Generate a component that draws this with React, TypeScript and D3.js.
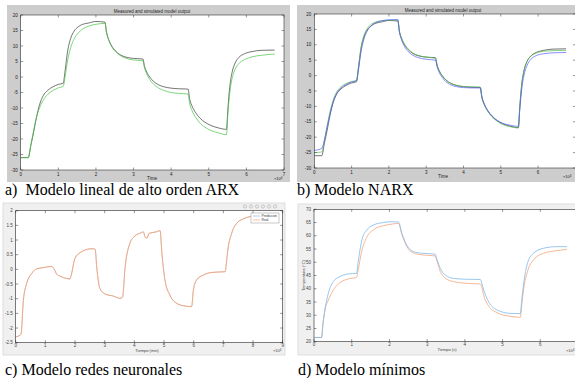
import React from 'react';
import * as d3 from 'd3';

// time axis (x10^4) shared by panels a and b
const tAB = [0, 0.2, 0.27, 0.34, 0.42, 0.5, 0.6, 0.72, 0.85, 1.0, 1.13, 1.18, 1.25, 1.33, 1.42, 1.53, 1.65, 1.8, 2.0, 2.24, 2.28, 2.34, 2.42, 2.52, 2.64, 2.8, 3.0, 3.25, 3.29, 3.35, 3.43, 3.53, 3.66, 3.82, 4.0, 4.2, 4.45, 4.49, 4.56, 4.65, 4.76, 4.9, 5.05, 5.25, 5.47, 5.51, 5.56, 5.62, 5.7, 5.8, 5.95, 6.15, 6.4, 6.75];
const measured = [-26, -26, -22, -18, -13, -9, -6, -4.3, -3.2, -2.4, -2.0, 2, 8.5, 12.5, 14.8, 16.2, 17.0, 17.4, 17.9, 17.7, 14.5, 12.0, 10.0, 8.4, 7.2, 6.4, 6.0, 5.8, 3.5, 1.6, 0.0, -1.4, -2.5, -3.2, -3.6, -3.8, -3.9, -7, -9.5, -11.5, -13.2, -14.6, -15.6, -16.4, -16.9, -10, -3, 1.5, 4.5, 6.3, 7.5, 8.2, 8.6, 8.7];
const arxSim = [-26, -26, -22, -17.5, -13, -10, -7.5, -5.6, -4.4, -3.5, -3.0, 0, 5.5, 9.5, 12.3, 14.2, 15.5, 16.4, 17.0, 17.3, 14.5, 12.0, 9.8, 8.2, 7.0, 6.0, 5.5, 5.2, 3.0, 1.0, -0.8, -2.3, -3.5, -4.4, -5.0, -5.3, -5.5, -8.5, -11, -13, -14.8, -16.2, -17.2, -18.0, -18.6, -11.5, -5, -0.5, 2.5, 4.3, 5.6, 6.5, 7.0, 7.4];
const narxGreen = [-25, -24.8, -21, -16.5, -11.8, -8.2, -5.3, -3.6, -2.6, -1.9, -1.6, 2.5, 9, 13, 15.3, 16.7, 17.4, 17.8, 18.0, 18.0, 14.5, 12.2, 10.2, 8.6, 7.4, 6.5, 6.0, 5.6, 3.4, 1.5, -0.1, -1.5, -2.5, -3.2, -3.5, -3.6, -3.7, -6.8, -9.4, -11.5, -13.3, -14.8, -15.9, -16.6, -17.0, -10, -3, 1.5, 4.5, 6.2, 7.3, 7.9, 8.1, 8.2];
const narxBlue = [-24.3, -23.6, -21, -17, -12.5, -8.8, -5.8, -4.0, -2.9, -2.1, -1.7, 1.5, 7.5, 11.8, 14.5, 16.2, 17.2, 17.8, 18.1, 18.2, 14.3, 11.6, 9.4, 7.8, 6.6, 5.8, 5.3, 5.0, 3.0, 1.0, -0.6, -2.0, -3.0, -3.6, -3.9, -4.0, -4.0, -6.6, -9.2, -11.3, -13.0, -14.5, -15.5, -16.1, -16.5, -11, -4.5, 0, 3.2, 5.2, 6.5, 7.1, 7.4, 7.5];

// panel c (x10^4 min)
const tC = [0, 0.15, 0.18, 0.26, 0.37, 0.54, 0.71, 0.93, 1.21, 1.3, 1.38, 1.49, 1.72, 1.83, 1.87, 2.0, 2.17, 2.34, 2.5, 2.62, 2.68, 2.73, 2.84, 3.01, 3.29, 3.52, 3.6, 3.69, 3.85, 4.02, 4.19, 4.3, 4.36, 4.42, 4.5, 4.75, 4.87, 4.92, 5.03, 5.2, 5.43, 5.71, 5.93, 5.99, 6.1, 6.33, 6.66, 7.06, 7.1, 7.15, 7.28, 7.45, 7.67, 7.9, 8.12];
const realC = [-2.3, -2.24, -2.2, -1.05, -0.48, -0.14, 0.02, 0.06, 0.1, 0.0, -0.16, -0.23, -0.31, -0.33, -0.2, 0.38, 0.57, 0.66, 0.7, 0.7, 0.68, 0.09, -0.65, -0.84, -0.91, -0.99, -0.95, 0.09, 0.89, 1.14, 1.23, 1.28, 1.11, 1.06, 1.23, 1.28, 1.32, 0.66, -0.36, -0.88, -1.16, -1.25, -1.27, -0.7, -0.36, -0.19, -0.1, -0.08, 0.2, 0.66, 1.23, 1.57, 1.72, 1.8, 1.85];
const predC = realC; // prediction sits under the real curve

// panel d (x10^4 s, °C)
const tD = [0, 0.2, 0.24, 0.29, 0.38, 0.51, 0.69, 0.91, 1.13, 1.17, 1.27, 1.4, 1.58, 1.84, 2.02, 2.24, 2.33, 2.46, 2.64, 2.86, 3.21, 3.26, 3.35, 3.48, 3.7, 4.0, 4.41, 4.45, 4.5, 4.63, 4.85, 5.2, 5.47, 5.51, 5.56, 5.66, 5.82, 6.09, 6.44, 6.71];
const measD = [21.6, 21.6, 27, 32, 38.3, 42.7, 44.6, 45.6, 45.8, 50, 58.4, 62.2, 64.1, 65, 65.3, 65.2, 60.9, 56.5, 54, 53.4, 53.1, 51, 47.7, 45.2, 43.9, 43.6, 43.5, 42, 39.5, 35.1, 32, 30.7, 30.6, 36, 42, 49.6, 53.4, 55.3, 55.9, 55.9];
const modelD = [21.6, 21.6, 27, 32, 35.7, 39.5, 42.3, 43.7, 44.3, 47, 54.5, 59.5, 62.3, 63.8, 64.3, 64.7, 60.5, 56, 53.5, 52.8, 52.4, 50.5, 46.5, 44, 42.7, 42.1, 41.8, 40.5, 37.5, 33.5, 31, 29.6, 29.2, 34, 40, 46.5, 50.9, 53.4, 54.4, 54.9];

const ticksA_x = [0, 1, 2, 3, 4, 5, 6, 7];
const ticksB_x = [0, 1, 2, 3, 4, 5, 6]; // 7 falls off the cropped edge
const ticksAB_y = [20, 15, 10, 5, 0, -5, -10, -15, -20, -25, -30];
const ticksC_x = [0, 1, 2, 3, 4, 5, 6, 7, 8, 9];
const ticksC_y = [2, 1.5, 1, 0.5, 0, -0.5, -1, -1.5, -2, -2.5];
const ticksD_x = [0, 1, 2, 3, 4, 5, 6];
const ticksD_y = [70, 65, 60, 55, 50, 45, 40, 35, 30, 25, 20];

const sans = 'Liberation Sans, Arial, sans-serif';
const serif = 'Liberation Serif, Times New Roman, serif';

type Series = { t: number[]; v: number[]; color: string; w: number };

function Axes(props: {
  box: [number, number, number, number];
  xd: [number, number]; yd: [number, number];
  xt: number[]; yt: number[];
  series: Series[];
  axisColor: string;
  labelColor: string;
  labelOff: number;
  id: string;
}) {
  const [x0, y0, x1, y1] = props.box;
  const x = d3.scaleLinear().domain(props.xd).range([x0, x1]);
  const y = d3.scaleLinear().domain(props.yd).range([y1, y0]);
  const tl = 2.5;
  return (
    <g>
      <rect x={x0} y={y0} width={x1 - x0} height={y1 - y0} fill="#fff" />
      <clipPath id={props.id}><rect x={x0} y={y0} width={x1 - x0} height={y1 - y0} /></clipPath>
      <g clipPath={`url(#${props.id})`}>
        {props.series.map((s, i) => {
          const line = d3.line<number>().x((_, j) => x(s.t[j])).y(d => y(d)).curve(d3.curveMonotoneX);
          return <path key={i} d={line(s.v) || ''} fill="none" stroke={s.color} strokeWidth={s.w} />;
        })}
      </g>
      <rect x={x0} y={y0} width={x1 - x0} height={y1 - y0} fill="none" stroke={props.axisColor} strokeWidth={0.6} />
      {props.xt.map(t => (
        <g key={'x' + t}>
          <line x1={x(t)} x2={x(t)} y1={y1} y2={y1 - tl} stroke={props.axisColor} strokeWidth={0.5} />
          <line x1={x(t)} x2={x(t)} y1={y0} y2={y0 + tl} stroke={props.axisColor} strokeWidth={0.5} />
          <text x={x(t)} y={y1 + props.labelOff} fontSize={4.5} textAnchor="middle" fill={props.labelColor} fontFamily={sans}>{t}</text>
        </g>
      ))}
      {props.yt.map(t => (
        <g key={'y' + t}>
          <line x1={x0} x2={x0 + tl} y1={y(t)} y2={y(t)} stroke={props.axisColor} strokeWidth={0.5} />
          <line x1={x1} x2={x1 - tl} y1={y(t)} y2={y(t)} stroke={props.axisColor} strokeWidth={0.5} />
          <text x={x0 - 3} y={y(t) + 1.6} fontSize={4.5} textAnchor="end" fill={props.labelColor} fontFamily={sans}>{t}</text>
        </g>
      ))}
    </g>
  );
}

function Exp(props: { x: number; y: number; color: string }) {
  return (
    <text x={props.x} y={props.y} fontSize={4} fill={props.color} fontFamily={sans}>
      ×10<tspan dy={-1.5} fontSize={3}>4</tspan>
    </text>
  );
}

export default function App() {
  const orange = '#f5a47c';
  const lightBlue = '#7db9ec';
  return (
    <svg width={575} height={378} style={{ position: 'absolute', left: 0, top: 0, background: '#fff' }}>
      {/* a) ARX */}
      <rect x={7} y={5} width={283} height={177} fill="#cdcdcd" />
      <Axes id="ca" box={[20.7, 15, 284, 170]} xd={[0, 7]} yd={[-30, 20]} xt={ticksA_x} yt={ticksAB_y}
        axisColor="#333" labelColor="#222" labelOff={5.5}
        series={[
          { t: tAB, v: measured, color: '#3a3a3a', w: 0.7 },
          { t: tAB, v: arxSim, color: '#45c445', w: 0.7 },
        ]} />
      <text x={152} y={12.5} fontSize={4.5} textAnchor="middle" fill="#222" fontFamily={sans}>Measured and simulated model output</text>
      <text x={152} y={180} fontSize={4.5} textAnchor="middle" fill="#222" fontFamily={sans}>Time</text>
      <Exp x={274} y={180} color="#222" />
      <text x={5} y={195} fontSize={16} fontFamily={serif} fill="#000" xmlSpace="preserve">a)  Modelo lineal de alto orden ARX</text>

      {/* b) NARX */}
      <rect x={297} y={5} width={278} height={177} fill="#cdcdcd" />
      <Axes id="cb" box={[314.3, 14, 575.4, 168]} xd={[0, 7]} yd={[-30, 20]} xt={ticksB_x} yt={ticksAB_y}
        axisColor="#333" labelColor="#222" labelOff={5.5}
        series={[
          { t: tAB, v: measured, color: '#3a3a3a', w: 0.7 },
          { t: tAB, v: narxGreen, color: '#4cbf4c', w: 0.7 },
          { t: tAB, v: narxBlue, color: '#5a5aff', w: 0.7 },
        ]} />
      <text x={443} y={11.5} fontSize={4.5} textAnchor="middle" fill="#222" fontFamily={sans}>Measured and simulated model output</text>
      <text x={443} y={178} fontSize={4.5} textAnchor="middle" fill="#222" fontFamily={sans}>Time</text>
      <Exp x={563} y={178} color="#222" />
      <text x={297} y={195} fontSize={16} fontFamily={serif} fill="#000">b) Modelo NARX</text>

      {/* c) neural network */}
      <rect x={3} y={203} width={282} height={152} fill="#f0f0f0" stroke="#d6d6d6" strokeWidth={0.8} />
      <Axes id="cc" box={[15.7, 210.7, 282.7, 342.7]} xd={[0, 9]} yd={[-2.5, 2]} xt={ticksC_x} yt={ticksC_y}
        axisColor="#262626" labelColor="#444" labelOff={4.6}
        series={[
          { t: tC, v: predC, color: lightBlue, w: 0.4 },
          { t: tC, v: realC, color: orange, w: 1.0 },
        ]} />
      {[245, 251, 257, 263, 269, 275].map((cx, i) => (
        <circle key={i} cx={cx} cy={206.5} r={1.6} fill="none" stroke="#9a9a9a" strokeWidth={0.5} />
      ))}
      <rect x={251} y={213} width={28} height={10} fill="#fff" stroke="#777" strokeWidth={0.4} />
      <line x1={253} x2={260} y1={216} y2={216} stroke={lightBlue} strokeWidth={0.7} />
      <text x={261.5} y={217.3} fontSize={3.3} fill="#333" fontFamily={sans}>Prediccion</text>
      <line x1={253} x2={260} y1={220} y2={220} stroke={orange} strokeWidth={0.7} />
      <text x={261.5} y={221.3} fontSize={3.3} fill="#333" fontFamily={sans}>Real</text>
      <text x={147} y={352} fontSize={4} textAnchor="middle" fill="#444" fontFamily={sans}>Tiempo (min)</text>
      <Exp x={273} y={352} color="#444" />
      <text x={5} y={375} fontSize={16} fontFamily={serif} fill="#000">c) Modelo redes neuronales</text>

      {/* d) least squares */}
      <rect x={298} y={204} width={280} height={151} fill="#f0f0f0" stroke="#d6d6d6" strokeWidth={0.8} />
      <Axes id="cd" box={[314, 209.3, 578, 341.7]} xd={[0, 7]} yd={[20, 70]} xt={ticksD_x} yt={ticksD_y}
        axisColor="#262626" labelColor="#444" labelOff={4.6}
        series={[
          { t: tD, v: modelD, color: orange, w: 0.8 },
          { t: tD, v: measD, color: lightBlue, w: 0.8 },
        ]} />
      <text x={447} y={351} fontSize={4} textAnchor="middle" fill="#444" fontFamily={sans}>Tiempo (s)</text>
      <text transform="translate(305,275.5) rotate(-90)" fontSize={4} textAnchor="middle" fill="#444" fontFamily={sans}>Temperatura (°C)</text>
      <Exp x={566} y={352} color="#444" />
      <text x={298} y={375} fontSize={16} fontFamily={serif} fill="#000">d) Modelo mínimos</text>
    </svg>
  );
}
